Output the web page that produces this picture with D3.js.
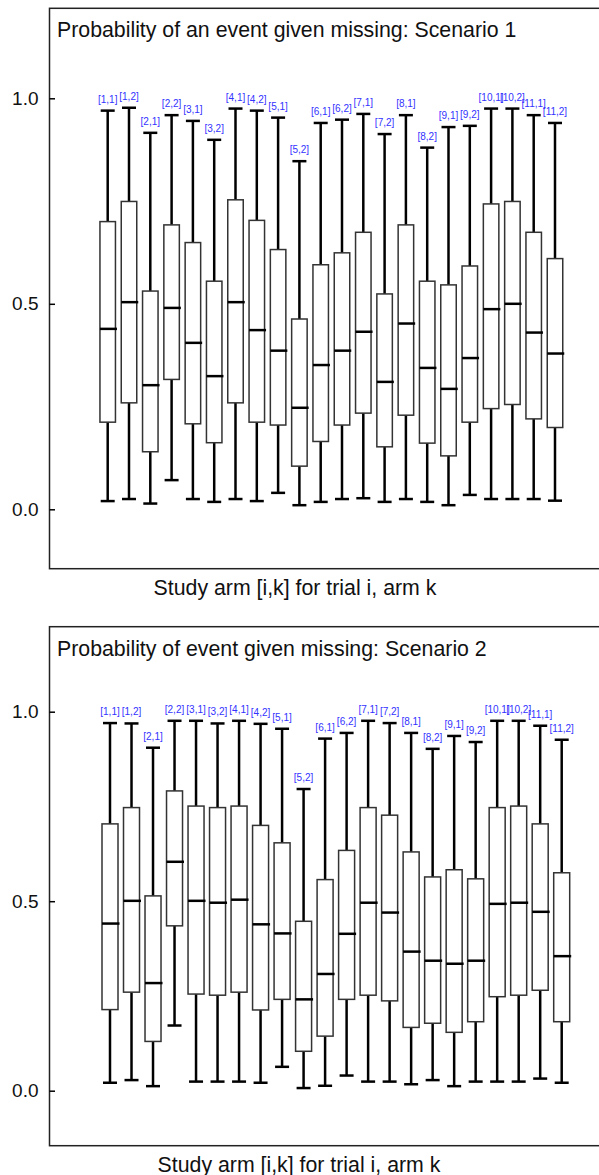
<!DOCTYPE html>
<html>
<head>
<meta charset="utf-8">
<script src="https://cdnjs.cloudflare.com/ajax/libs/d3/7.8.5/d3.min.js"></script>
<style>
body { margin: 0; background: #fff; }
svg { display: block; font-family: "Liberation Sans", Arial, sans-serif; }
</style>
</head>
<body>
<script>
// study arm labels [trial, arm]
var armLabels = ["[1,1]","[1,2]","[2,1]","[2,2]","[3,1]","[3,2]","[4,1]","[4,2]","[5,1]","[5,2]","[6,1]",
                 "[6,2]","[7,1]","[7,2]","[8,1]","[8,2]","[9,1]","[9,2]","[10,1]","[10,2]","[11,1]","[11,2]"];
var yTicks = [0, 0.5, 1];

// scenario 1: lower whisker, Q1, median, Q3, upper whisker
var s1Low  = [0.020,0.025,0.014,0.071,0.025,0.018,0.025,0.020,0.040,0.010,0.018,0.025,0.027,0.018,0.025,0.018,0.010,0.035,0.025,0.025,0.025,0.021];
var s1Q1   = [0.212,0.259,0.140,0.316,0.208,0.162,0.259,0.212,0.205,0.105,0.165,0.205,0.234,0.152,0.229,0.161,0.130,0.212,0.245,0.255,0.220,0.199];
var s1Med  = [0.439,0.504,0.302,0.490,0.405,0.324,0.504,0.436,0.386,0.247,0.351,0.386,0.432,0.310,0.452,0.344,0.293,0.368,0.487,0.500,0.430,0.379];
var s1Q3   = [0.700,0.749,0.531,0.692,0.649,0.555,0.753,0.703,0.632,0.463,0.595,0.624,0.674,0.524,0.692,0.555,0.546,0.592,0.743,0.749,0.674,0.610];
var s1High = [0.970,0.977,0.916,0.959,0.945,0.899,0.975,0.970,0.953,0.847,0.940,0.948,0.962,0.913,0.959,0.880,0.930,0.933,0.975,0.975,0.959,0.940];

// scenario 2
var s2Low  = [0.021,0.028,0.012,0.172,0.024,0.024,0.024,0.021,0.063,0.007,0.013,0.040,0.024,0.024,0.017,0.028,0.012,0.024,0.024,0.024,0.032,0.021];
var s2Q1   = [0.214,0.260,0.130,0.435,0.255,0.252,0.260,0.213,0.241,0.104,0.144,0.241,0.252,0.237,0.167,0.178,0.154,0.182,0.248,0.252,0.265,0.182];
var s2Med  = [0.441,0.501,0.284,0.604,0.501,0.496,0.504,0.439,0.415,0.241,0.308,0.414,0.496,0.470,0.367,0.343,0.335,0.343,0.493,0.496,0.472,0.355];
var s2Q3   = [0.704,0.747,0.514,0.791,0.751,0.747,0.751,0.700,0.654,0.447,0.557,0.634,0.747,0.727,0.630,0.564,0.583,0.559,0.747,0.751,0.704,0.575];
var s2High = [0.970,0.969,0.905,0.976,0.976,0.969,0.976,0.968,0.955,0.796,0.929,0.944,0.976,0.970,0.944,0.902,0.936,0.920,0.976,0.976,0.963,0.926];

var svg = d3.select("body").append("svg")
    .attr("width", 599)
    .attr("height", 1175);

function drawPanel(p) {
    var g = svg.append("g");

    var x = d3.scalePoint().domain(armLabels).range([p.xFirst, p.xLast]);
    var y = d3.scaleLinear().domain([0, 1]).range([p.y0, p.y1]);

    // frame (right side runs off the page)
    g.append("rect")
        .attr("x", 49.5).attr("y", p.top)
        .attr("width", 620).attr("height", p.bottom - p.top)
        .attr("fill", "none").attr("stroke", "#222").attr("stroke-width", 1.5);

    // y axis, ticks pointing inwards
    var axis = g.append("g")
        .attr("transform", "translate(49.5,0)")
        .call(d3.axisLeft(y).tickValues(yTicks).tickFormat(d3.format(".1f"))
            .tickSizeInner(-5.5).tickSizeOuter(0).tickPadding(11));
    axis.select(".domain").remove();
    axis.selectAll("line").attr("stroke", "#000").attr("stroke-width", 1.5);
    axis.selectAll("text").attr("font-size", 19).attr("fill", "#111")
        .attr("font-family", "Liberation Sans, Arial, sans-serif");

    g.append("text")
        .attr("x", 57).attr("y", p.titleY)
        .attr("font-size", 21.3).attr("fill", "#111")
        .text(p.title);

    g.append("text")
        .attr("x", p.xlabX).attr("y", p.xlabY)
        .attr("text-anchor", "middle")
        .attr("font-size", 21.3).attr("fill", "#111")
        .text("Study arm [i,k] for trial i, arm k");

    var rows = armLabels.map(function(lab, i) {
        return {lab: lab, lo: p.low[i], q1: p.q1[i], med: p.med[i], q3: p.q3[i], hi: p.high[i]};
    });

    var bw = p.boxWidth, cw = 14;
    var box = g.selectAll(".box").data(rows).enter().append("g").attr("class", "box");

    // whiskers
    box.append("line")
        .attr("x1", function(d) { return x(d.lab); }).attr("x2", function(d) { return x(d.lab); })
        .attr("y1", function(d) { return y(d.hi); }).attr("y2", function(d) { return y(d.q3); })
        .attr("stroke", "#000").attr("stroke-width", 2.5);
    box.append("line")
        .attr("x1", function(d) { return x(d.lab); }).attr("x2", function(d) { return x(d.lab); })
        .attr("y1", function(d) { return y(d.q1); }).attr("y2", function(d) { return y(d.lo); })
        .attr("stroke", "#000").attr("stroke-width", 2.5);
    // caps
    ["hi", "lo"].forEach(function(k) {
        box.append("line")
            .attr("x1", function(d) { return x(d.lab) - cw / 2; })
            .attr("x2", function(d) { return x(d.lab) + cw / 2; })
            .attr("y1", function(d) { return y(d[k]); })
            .attr("y2", function(d) { return y(d[k]); })
            .attr("stroke", "#000").attr("stroke-width", 2.5);
    });
    // box
    box.append("rect")
        .attr("x", function(d) { return x(d.lab) - bw / 2; })
        .attr("y", function(d) { return y(d.q3); })
        .attr("width", bw)
        .attr("height", function(d) { return y(d.q1) - y(d.q3); })
        .attr("fill", "#fff").attr("stroke", "#333").attr("stroke-width", 1.5);
    // median
    box.append("line")
        .attr("x1", function(d) { return x(d.lab) - bw / 2; })
        .attr("x2", function(d) { return x(d.lab) + bw / 2 + 1.5; })
        .attr("y1", function(d) { return y(d.med); })
        .attr("y2", function(d) { return y(d.med); })
        .attr("stroke", "#000").attr("stroke-width", 2.5);
    // arm labels above upper whisker
    box.append("text")
        .attr("x", function(d) { return x(d.lab); })
        .attr("y", function(d) { return y(d.hi) - 8; })
        .attr("text-anchor", "middle")
        .attr("font-size", 10).attr("fill", "#3333ff")
        .text(function(d) { return d.lab; });
}

drawPanel({
    title: "Probability of an event given missing: Scenario 1",
    top: 8.3, bottom: 568.7, y0: 509.3, y1: 98.3,
    xFirst: 107.7, xLast: 555, boxWidth: 15.5,
    titleY: 36.5, xlabX: 295, xlabY: 594.5,
    low: s1Low, q1: s1Q1, med: s1Med, q3: s1Q3, high: s1High
});

drawPanel({
    title: "Probability of event given missing: Scenario 2",
    top: 626.7, bottom: 1145.7, y0: 1090.7, y1: 711.7,
    xFirst: 110, xLast: 561.7, boxWidth: 16,
    titleY: 656, xlabX: 299, xlabY: 1171.5,
    low: s2Low, q1: s2Q1, med: s2Med, q3: s2Q3, high: s2High
});
</script>
</body>
</html>
